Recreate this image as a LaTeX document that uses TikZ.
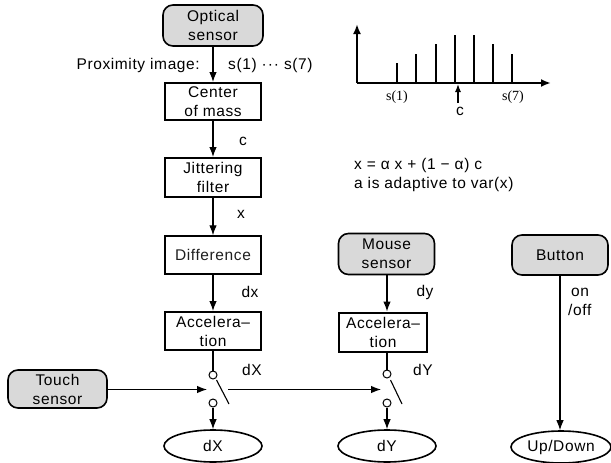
\documentclass[tikz,border=0pt]{standalone}
\usepackage{fontspec}
\setmainfont{Liberation Sans}[LetterSpace=4]
\newfontfamily\serifl{Liberation Serif}
\usetikzlibrary{arrows.meta,shapes.geometric}
\begin{document}
\begin{tikzpicture}[x=1pt,y=-1pt,
  font=\fontsize{15.5}{19}\selectfont,
  tip/.style={-{Latex[length=10pt,width=7.5pt]}},
  conn/.style={line width=1.1pt,tip},
  plain/.style={line width=1.1pt},
  rbox/.style={draw,line width=1.6pt,rounded corners=10pt,fill=black!15,align=center,inner sep=0pt},
  sbox/.style={draw,line width=2pt,align=center,inner sep=0pt,minimum width=96pt,minimum height=38pt},
  oval/.style={draw,ellipse,line width=1.6pt,inner sep=0pt,minimum width=98pt,minimum height=32pt},
  sw/.style={draw,circle,line width=1pt,fill=white,minimum size=8pt,inner sep=0pt},
  lbl/.style={inner sep=0pt},
  axis/.style={line width=2pt},
  bar/.style={line width=2pt}]
\useasboundingbox (0,0) rectangle (611,463);

% left column
\node[rbox,minimum width=100pt,minimum height=41pt] (opt) at (213,25.5) {Optical\\sensor};
\node[sbox,minimum height=37pt] (com) at (213,101.5) {Center\\of mass};
\node[sbox,minimum height=39pt] (jit) at (213,177.5) {Jittering\\filter};
\node[sbox,line width=1.4pt,text=black!88] (diff) at (213,255) {Difference};
\node[sbox] (acc1) at (213,331) {Accelera–\\tion};
\node[sw] (s1a) at (213,375) {};
\node[sw] (s1b) at (213,403) {};
\coordinate (lev1a) at (216.5,380);
\coordinate (lev1b) at (229,404);
\node[oval] (dX) at (213,446) {dX};

\draw[conn] (opt) -- (com);
\draw[conn] (com) -- (jit);
\draw[conn] (jit) -- (diff);
\draw[conn] (diff) -- (acc1);
\draw[plain] (acc1) -- (s1a);
\draw[plain] (lev1a) -- (lev1b);
\draw[conn] (s1b) -- (dX);

\node[lbl,anchor=east] (prox) at (200,65) {Proximity image:};
\node[lbl,anchor=west] (seq) at (228,65) {s(1) ·\kern1pt·\kern1pt· s(7)};
\node[lbl] (lc) at (243,141) {c};
\node[lbl] (lx) at (241,214) {x};
\node[lbl] (ldx) at (250,292) {dx};
\node[lbl] (ldX) at (252,370) {dX};

% touch sensor
\node[rbox,minimum width=99pt,minimum height=38pt] (touch) at (57.5,389) {Touch\\sensor};
\coordinate (in1) at (207,389.5);
\coordinate (out1) at (228,389.5);
\coordinate (in2) at (381,389.5);
\draw[conn] (touch.east |- in1) -- (in1);
\draw[conn] (out1) -- (in2);

% middle column
\node[rbox,minimum width=96pt,minimum height=41pt] (mouse) at (386.5,254) {Mouse\\sensor};
\node[sbox,minimum width=88pt,minimum height=39pt] (acc2) at (383,332) {Accelera–\\tion};
\node[sw] (s2a) at (387,374) {};
\node[sw] (s2b) at (387,403) {};
\coordinate (lev2a) at (390.5,380);
\coordinate (lev2b) at (402,404);
\node[oval] (dY) at (387,446) {dY};
\draw[conn] (mouse.south -| s2a) -- (s2a |- acc2.north);
\draw[plain] (s2a |- acc2.south) -- (s2a);
\draw[plain] (lev2a) -- (lev2b);
\draw[conn] (s2b) -- (dY);
\node[lbl] (ldy) at (425,292) {dy};
\node[lbl] (ldY) at (423,370) {dY};

% right column
\node[rbox,minimum width=96pt,minimum height=40pt] (btn) at (560,255) {Button};
\node[oval,minimum width=100pt] (ud) at (561,447) {Up/Down};
\draw[conn] (btn.south) -- (btn.south |- ud.north);
\node[lbl,anchor=west,align=left] (onoff) at (568,302) {\hspace*{3pt}on\\/off};

% graph
\coordinate (o) at (357,83);
\coordinate (ytop) at (357,24);
\coordinate (xend) at (551,83);
\draw[axis,-{Latex[length=10pt,width=8pt]}] (o) -- (ytop);
\draw[axis,-{Latex[length=10pt,width=8pt]}] (o) -- (xend);
\foreach \x/\t in {397/63,416/54,436/44,455/35,474/35,493/44,512/54}
  \draw[bar] (\x,83) -- (\x,\t);
\node[lbl,font=\serifl\fontsize{14}{16}\selectfont] (s1) at (397,97) {s(1)};
\node[lbl,font=\serifl\fontsize{14}{16}\selectfont] (s7) at (513,97) {s(7)};
\coordinate (cb) at (458,103);
\coordinate (ct) at (458,84);
\draw[line width=1.3pt,-{Latex[length=8pt,width=6pt]}] (cb) -- (ct);
\node[lbl] (cc) at (460,111) {c};

% formula
\node[lbl,anchor=west,align=left] (f1) at (354,175) {x = α x + (1 − α) c\\a is adaptive to var(x)};
\end{tikzpicture}
\end{document}
